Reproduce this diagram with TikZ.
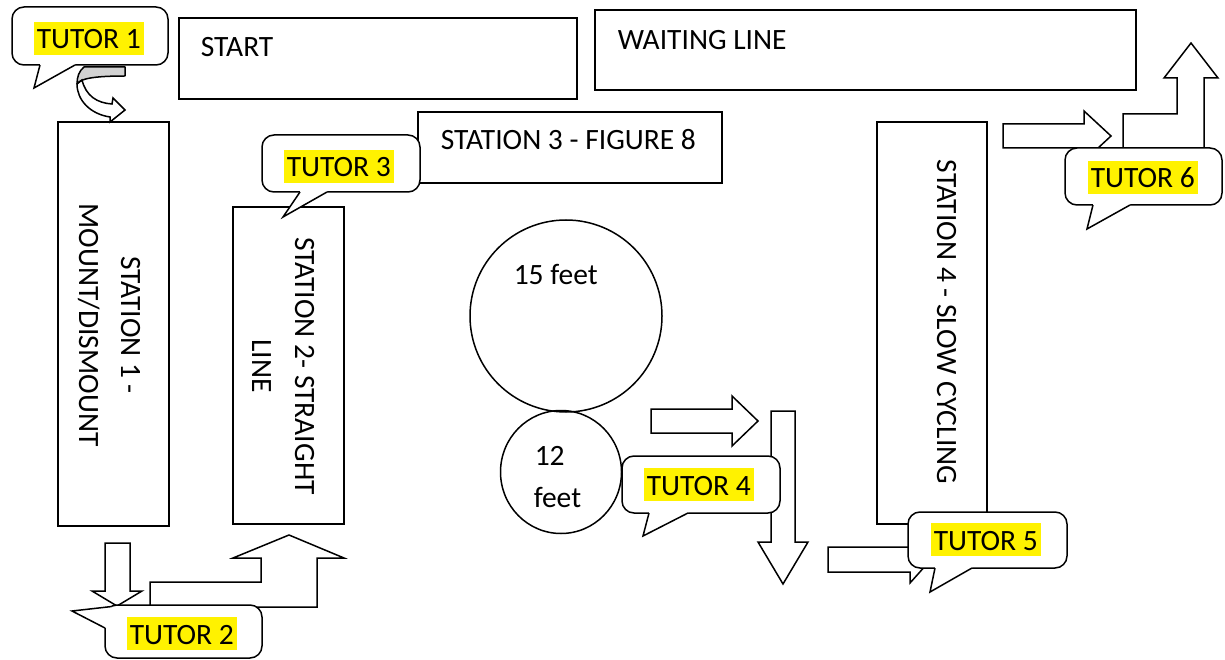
\documentclass[tikz,border=0pt]{standalone}
\usepackage{fontspec}
\setmainfont{Carlito}
\usetikzlibrary{shapes.geometric}
\begin{document}
\begin{tikzpicture}[x=1pt,y=-1pt,
  line width=1.5pt,
  box/.style={draw, inner sep=0pt, outer sep=0pt},
  lbl/.style={font=\fontsize{29.5}{35}\selectfont, inner sep=0pt},
  hlbl/.style={lbl, anchor=base west},
  rlbl/.style={lbl, rotate=-90, anchor=base},
  callbox/.style={draw, fill=white, rounded corners=12pt, inner sep=0pt, outer sep=0pt},
  hl/.style={lbl, fill=yellow, text height=27pt, text depth=6pt, inner xsep=3pt, inner ysep=0pt, anchor=base west},
  blockarrow/.style={draw, fill=white, line join=miter},
]
\useasboundingbox (0,0) rectangle (1225,660);
\fill[white] (0,0) rectangle (1225,660);

% boxes
\node (start) [box, minimum width=398, minimum height=81] at (378,58.5) {};
\node (wait) [box, minimum width=541, minimum height=80] at (865.5,50) {};
\node (s1) [box, minimum width=111, minimum height=404] at (113.5,324) {};
\node (s2) [box, minimum width=111, minimum height=317] at (288.5,365.5) {};
\node (s4) [box, minimum width=110, minimum height=402] at (932,323) {};
\node (big) [draw, circle, inner sep=0pt, minimum size=192] at (566,316) {};
\node (small) [draw, ellipse, inner sep=0pt, minimum width=121, minimum height=123] at (561,472) {};

% texts
\node (tstart) [hlbl] at (200,57) {START};
\node (twait) [hlbl] at (617,50) {WAITING LINE};
\node (t15) [hlbl] at (513,284) {15 feet};
\node (t12) [hlbl] at (534,465) {12};
\node (tfeet) [hlbl] at (533,507) {feet};
\node (ts1a) [rlbl] at (121,325) {STATION 1 -};
\node (ts1b) [rlbl] at (79,325) {MOUNT/DISMOUNT};
\node (ts2a) [rlbl] at (295,366) {STATION 2- STRAIGHT};
\node (ts2b) [rlbl] at (252,366) {LINE};
\node (ts4) [rlbl] at (937,322) {STATION 4 - SLOW CYCLING};

% curved arrow (tutor 1 to station 1)
\filldraw[fill=gray!35, line join=round] (125,67) -- (84,67) .. controls (79,71) and (77,77) .. (77,84) .. controls (80,79) and (92,76) .. (125,76) -- cycle;
\filldraw[fill=white, line join=miter] (77,84) .. controls (77,100) and (90,114) .. (110,117) -- (110,122) -- (125,110) -- (113,98) -- (112,104) .. controls (97,103) and (86,96) .. (82,80) -- cycle;

% block arrows
\draw[blockarrow] (105,543) -- (130,543) -- (130,591) -- (142,591) -- (117,606) -- (92,591) -- (105,591) -- cycle;
\draw[blockarrow] (150,607) -- (150,582) -- (261,582) -- (261,558) -- (233,558) -- (289,535) -- (344,558) -- (317,558) -- (317,607) -- cycle;
\draw[blockarrow] (651,409) -- (732,409) -- (732,396) -- (758,421) -- (732,446) -- (732,433) -- (651,433) -- cycle;
\draw[blockarrow] (771,411) -- (795,411) -- (795,542) -- (808,542) -- (783,584) -- (758,542) -- (771,542) -- cycle;
\draw[blockarrow] (828,547) -- (910,547) -- (910,536) -- (931,559.5) -- (910,583) -- (910,572) -- (828,572) -- cycle;
\draw[blockarrow] (1003,124) -- (1084,124) -- (1084,111) -- (1111,136) -- (1084,161) -- (1084,148) -- (1003,148) -- cycle;
\draw[blockarrow] (1123,150) -- (1123,114) -- (1177,114) -- (1177,78) -- (1164,78) -- (1191,43) -- (1218,78) -- (1204,78) -- (1204,150) -- cycle;

% station 3 box
\node (s3) [box, fill=white, minimum width=304, minimum height=71] at (570,147.5) {};
\node (ts3) [hlbl] at (440,150) {STATION 3 - FIGURE 8};

% callouts
\node (c1) [callbox, minimum width=156, minimum height=58] at (90,36) {};
\fill[white] (40,62) -- (40,65) -- (34,88) -- (75,65) -- (75,62) -- cycle;
\draw (40,65) -- (34,88) -- (75,65);

\node (c2) [callbox, minimum width=157, minimum height=53] at (183.5,631.5) {};
\fill[white] (111,606.6) -- (72,611) -- (105,628) -- (109,626) -- (113,610) -- cycle;
\draw (111,606.6) -- (72,611) -- (105,628);

\node (c3) [callbox, minimum width=158, minimum height=57] at (341,163.5) {};
\fill[white] (300,189) -- (300,192) -- (283,217) -- (327,192) -- (327,189) -- cycle;
\draw (300,192) -- (283,217) -- (327,192);

\node (c4) [callbox, minimum width=158, minimum height=57] at (701,484.5) {};
\fill[white] (649,510) -- (649,513) -- (643,536) -- (688,513) -- (688,510) -- cycle;
\draw (649,513) -- (643,536) -- (688,513);

\node (c5) [callbox, minimum width=159, minimum height=56] at (987.5,540) {};
\fill[white] (935,565) -- (935,568) -- (930,592) -- (972,568) -- (972,565) -- cycle;
\draw (935,568) -- (930,592) -- (972,568);

\node (c6) [callbox, minimum width=157, minimum height=57] at (1143.5,176.5) {};
\fill[white] (1093,202) -- (1093,205) -- (1087,229) -- (1130,205) -- (1130,202) -- cycle;
\draw (1093,205) -- (1087,229) -- (1130,205);

% tutor labels
\node (t1) [hl] at (33,49) {TUTOR 1\hspace{5pt}};
\node (t2) [hl] at (126,644) {TUTOR 2\hspace{5pt}};
\node (t3) [hl] at (283,177) {TUTOR 3\hspace{5pt}};
\node (t4) [hl] at (643,495) {TUTOR 4\hspace{5pt}};
\node (t5) [hl] at (930,550) {TUTOR 5\hspace{5pt}};
\node (t6) [hl] at (1087,188) {TUTOR 6\hspace{5pt}};
\end{tikzpicture}
\end{document}
